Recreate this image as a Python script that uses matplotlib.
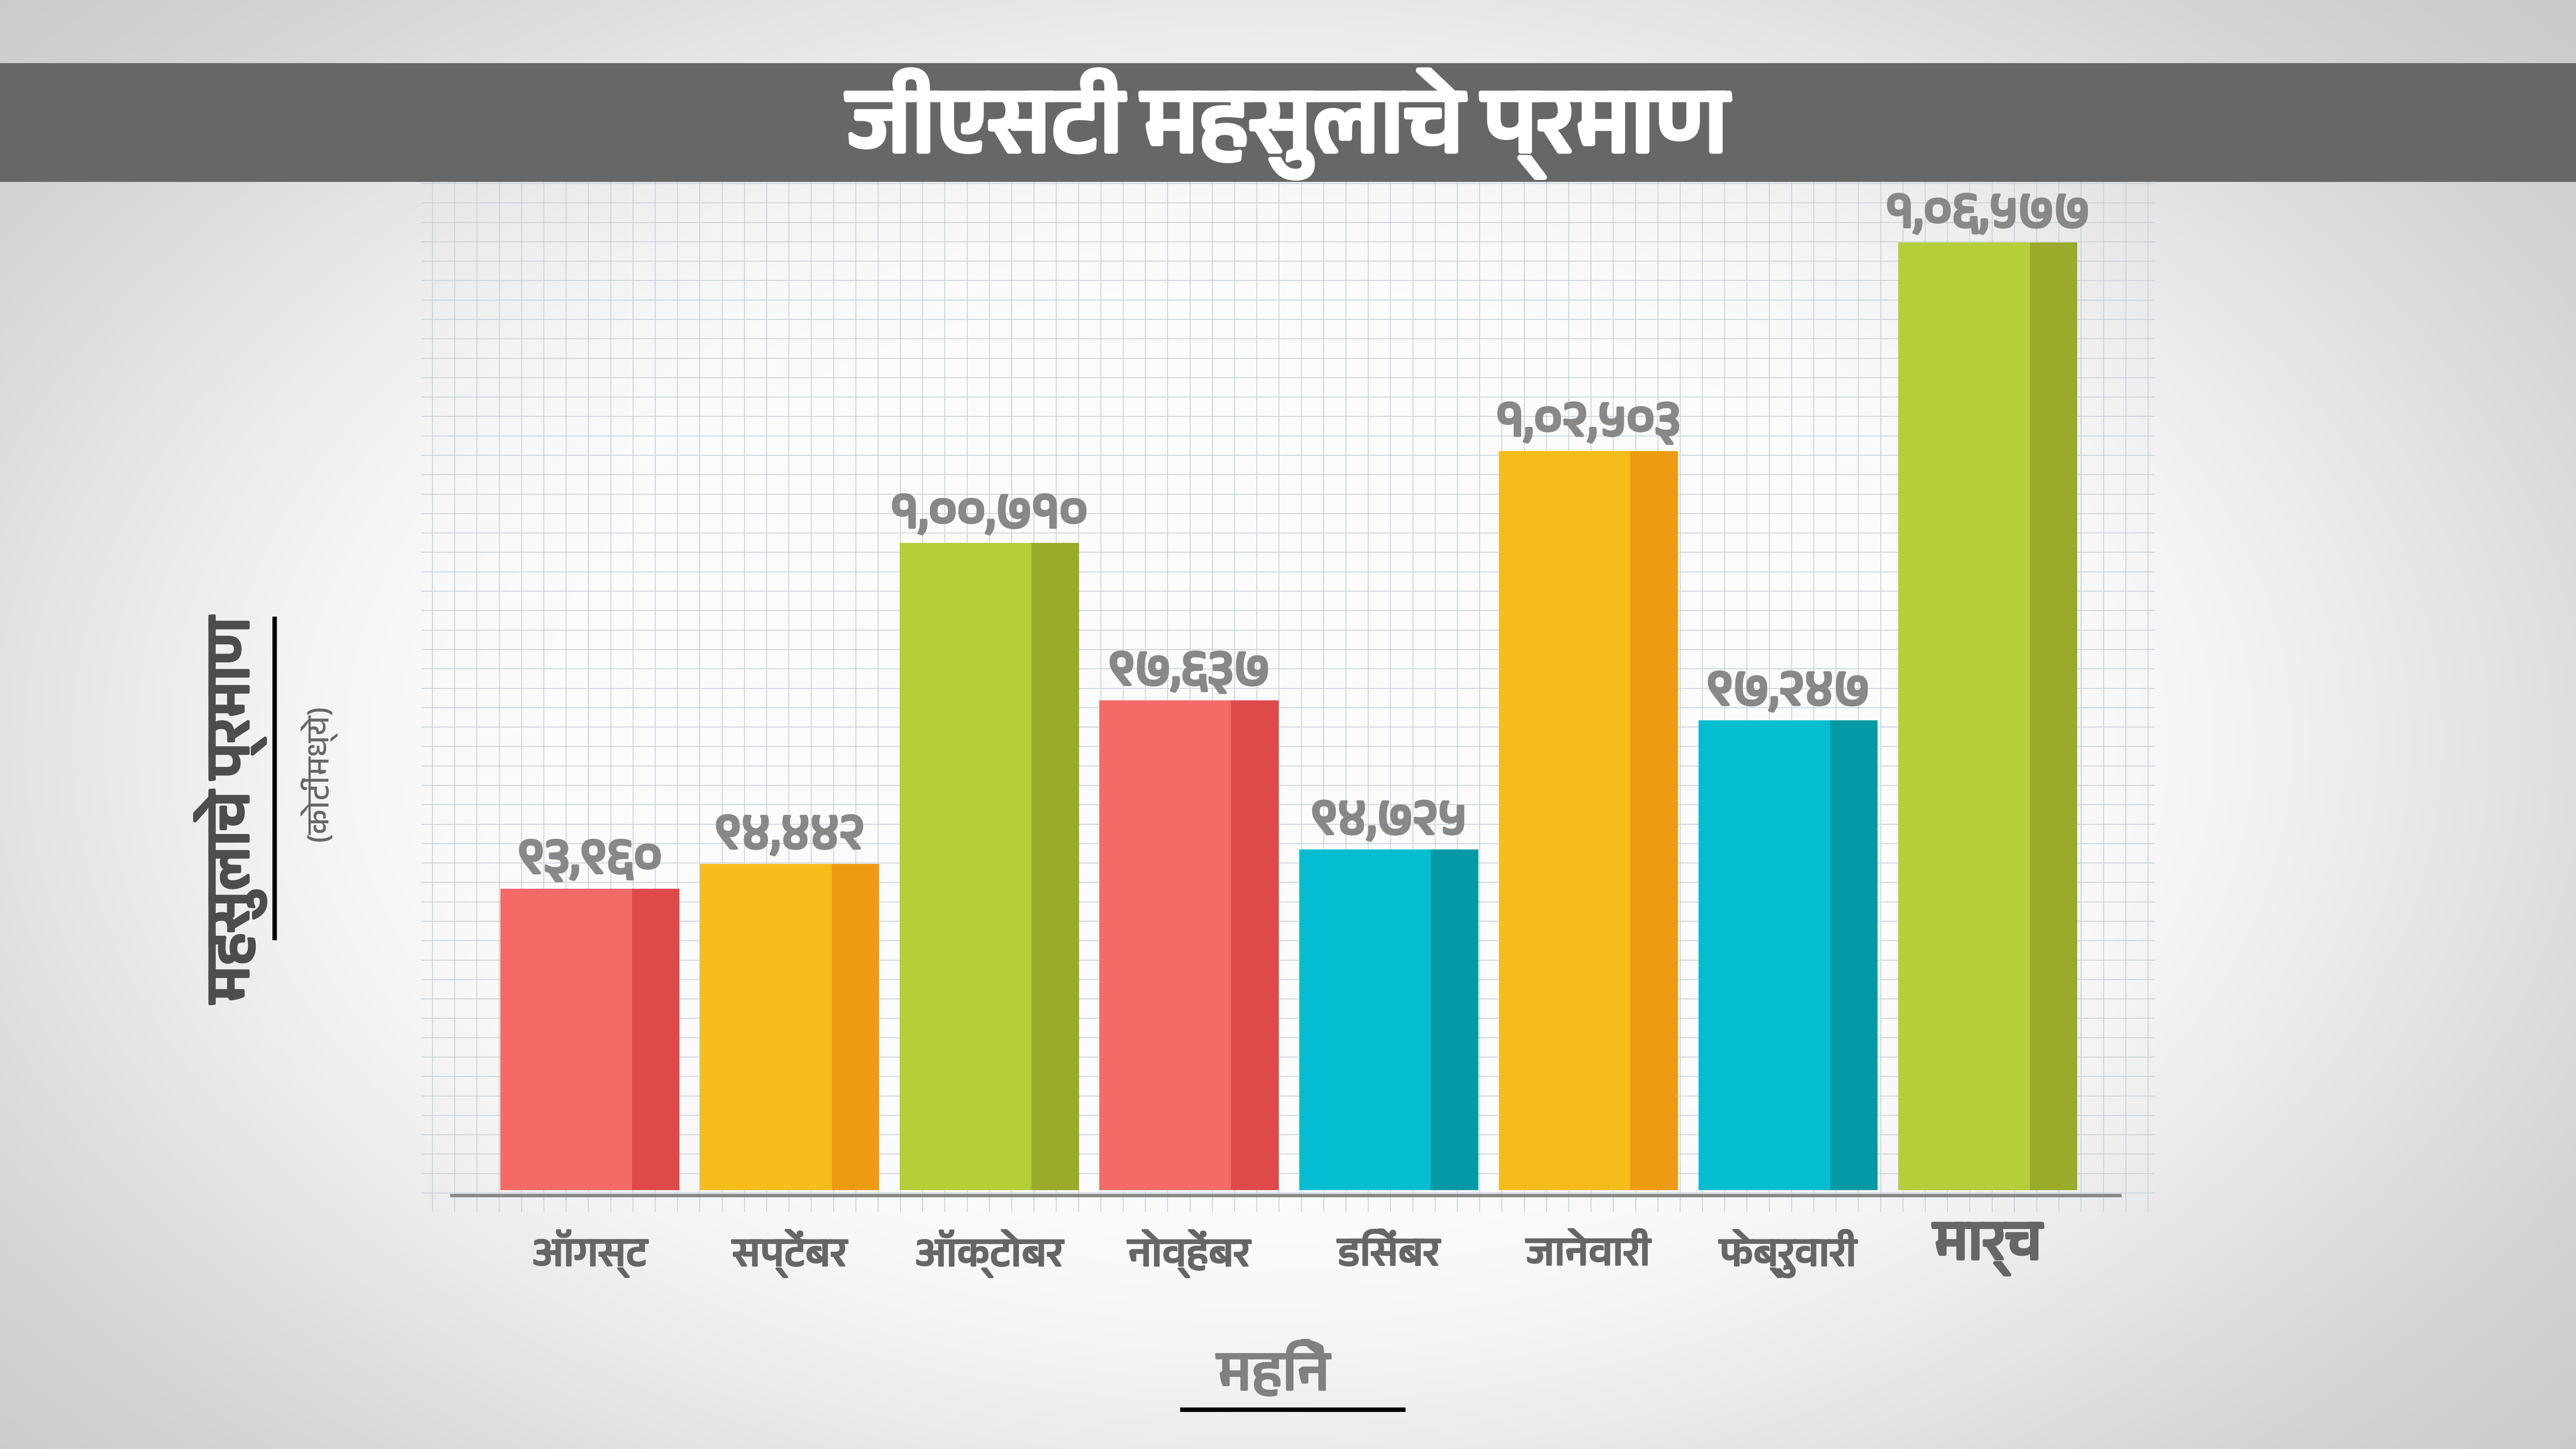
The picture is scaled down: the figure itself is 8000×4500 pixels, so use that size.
import numpy as np
import matplotlib
matplotlib.use("Agg")
import matplotlib.pyplot as plt
import matplotlib.patheffects as pe
from matplotlib import font_manager

# ---------------- data ----------------
months = ["ऑगस्ट", "सप्टेंबर", "ऑक्टोबर", "नोव्हेंबर", "डिसेंबर", "जानेवारी", "फेब्रुवारी", "मार्च"]
revenue = [93960, 94442, 100710, 97637, 94725, 102503, 97247, 106577]
value_labels = ["९३,९६०", "९४,४४२", "१,००,७१०", "९७,६३७", "९४,७२५", "१,०२,५०३", "९७,२४७", "१,०६,५७७"]
title = "जीएसटी महसुलाचे प्रमाण"
xlabel = "महिने"
ylabel = "महसुलाचे प्रमाण"
ysub = "(कोटींमध्ये)"

light_colors = ["#F46A66", "#F5BC1A", "#B4CF3A", "#F46A66", "#05BDD0", "#F5BC1A", "#05BDD0", "#B4CF3A"]
dark_colors = ["#DE4A4A", "#EE9A12", "#9AAA2A", "#DE4A4A", "#0499A4", "#EE9A12", "#0499A4", "#9AAA2A"]

# ---------------- fonts ----------------
names = sorted({f.name for f in font_manager.fontManager.ttflist})
deva = [n for n in names if "Devanagari" in n or "Lohit" in n or "Mukta" in n or "Hind" in n]
FAM = deva[:2] + ["Noto Sans", "DejaVu Sans"]
plt.rcParams["font.family"] = FAM


def heavy(color, w):
    return [pe.withStroke(linewidth=w, foreground=color)]


W, H = 8000, 4500
fig = plt.figure(figsize=(16, 9), dpi=500)

# ---------------- background (pixel coords) ----------------
bg = fig.add_axes([0, 0, 1, 1])
bg.set_xlim(0, W)
bg.set_ylim(H, 0)
bg.axis("off")
yy, xx = np.mgrid[0:450, 0:800]
r = np.sqrt(((xx - 390) / 470.0) ** 2 + ((yy - 230) / 300.0) ** 2)
t = np.clip((r - 0.45) / 0.75, 0, 1)
t = t * t * (3 - 2 * t)
g = 0.985 - 0.19 * t
bg.imshow(np.dstack([g, g, g]), extent=[0, W, H, 0], aspect="auto", zorder=0, interpolation="bilinear")

# graph-paper grid
gx0, gx1, gy0, gy1 = 1310, 6691, 562, 3763
for x in np.linspace(1343, 6671, 78):
    bg.plot([x, x], [gy0, gy1], color="#C3CED8", lw=0.35, zorder=1)
for y in np.linspace(570, 3705, 53):
    bg.plot([gx0, gx1], [y, y], color="#C3CED8", lw=0.35, zorder=1)

# title bar
bg.add_patch(plt.Rectangle((0, 199), W, 362, color="#676767", zorder=2))
bg.text(4000, 385, title, color="white", fontsize=41, fontweight="bold",
        ha="center", va="center", zorder=3, path_effects=heavy("white", 2.2))

# x-axis title + underline
bg.text(3955, 4260, xlabel, color="#808080", fontsize=25, fontweight="bold", ha="center", va="center",
        path_effects=heavy("#808080", 1.0))
bg.plot([3665, 4365], [4378, 4378], color="black", lw=2.0, solid_capstyle="butt")

# y-axis title + line
bg.text(715, 2515, ylabel, color="#4D4D4D", fontsize=27, fontweight="bold", rotation=90,
        ha="center", va="center", path_effects=heavy("#4D4D4D", 1.3))
bg.plot([853, 853], [1915, 2920], color="black", lw=2.0, solid_capstyle="butt")
bg.text(985, 2400, ysub, color="#666666", fontsize=14, rotation=90, ha="center", va="center")

# ---------------- main bar axes ----------------
ax = fig.add_axes([gx0 / W, 1 - gy1 / H, (gx1 - gx0) / W, (gy1 - gy0) / H])
ax.patch.set_alpha(0)
for s in ax.spines.values():
    s.set_visible(False)
ax.set_xlim(-0.842, 7.835)
ax.set_ylim(87650, 107780)
ax.set_xticks([])
ax.set_yticks([])

base = 88070
bw = 0.897
dw = 0.238
xs = np.arange(len(months))
vals = np.array(revenue)
ax.bar(xs, vals - base, bottom=base, width=bw, color=light_colors, zorder=3)
ax.bar(xs + bw / 2 - dw / 2, vals - base, bottom=base, width=dw, color=dark_colors, zorder=4)
ax.plot([-0.70, 7.67], [87965, 87965], color="#878787", lw=1.5, zorder=5, solid_capstyle="butt")

for x, v, lab in zip(xs, vals, value_labels):
    ax.annotate(lab, (x, v), xytext=(0, 3), textcoords="offset points", ha="center", va="bottom",
                color="#888888", fontsize=23, fontweight="bold", zorder=6,
                path_effects=heavy("#888888", 1.2))

for i, (x, m) in enumerate(zip(xs, months)):
    big = (i == len(months) - 1)
    ax.annotate(m, (x, 87965), xytext=(0, -26 if not big else -24), textcoords="offset points",
                ha="center", va="center", color="#666666",
                fontsize=25 if big else 18, fontweight="bold", annotation_clip=False,
                path_effects=heavy("#666666", 1.4 if big else 0.8))

fig.savefig("out.png", dpi=500)
